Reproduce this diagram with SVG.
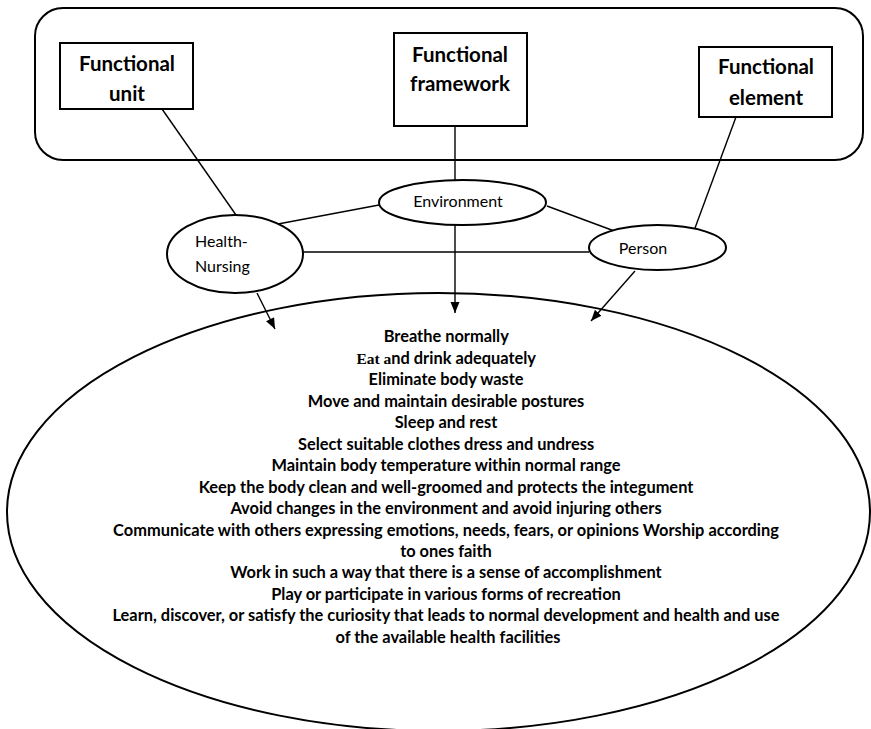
<svg xmlns="http://www.w3.org/2000/svg" width="871" height="729" viewBox="0 0 871 729">
<style>
.box{fill:#fff;stroke:#000;stroke-width:2}
.ell{fill:#fff;stroke:#000;stroke-width:2}
.ln{stroke:#000;stroke-width:1.4;fill:none}
.bt{font-family:Lato,"Liberation Sans",sans-serif;font-weight:bold;font-size:20.5px;text-anchor:middle;fill:#000}
.et{font-family:Lato,"Liberation Sans",sans-serif;font-size:16px;fill:#000}
.lt{font-family:Lato,"Liberation Sans",sans-serif;font-weight:bold;font-size:16.4px;text-anchor:middle;fill:#000}
.sf{font-family:"Liberation Serif",serif;font-weight:bold;font-size:15.5px}
</style>
<defs>
<marker id="ah" markerUnits="userSpaceOnUse" markerWidth="12" markerHeight="10" refX="11" refY="4.5" orient="auto">
<path d="M0,0 L11,4.5 L0,9 z" fill="#000"/>
</marker>
</defs>
<rect id="frame" x="35" y="8" width="828" height="152" rx="28" ry="28" fill="#fff" stroke="#000" stroke-width="2"/>
<g id="needs">
<ellipse cx="438.5" cy="512" rx="431.5" ry="219" fill="#fff" stroke="#000" stroke-width="2"/>
<text class="lt">
<tspan x="448" y="342">Breathe normally</tspan>
<tspan x="448" y="363.5"><tspan class="sf">Eat a</tspan>nd drink adequately</tspan>
<tspan x="448" y="385">Eliminate body waste</tspan>
<tspan x="448" y="406.5">Move and maintain desirable postures</tspan>
<tspan x="448" y="428">Sleep and rest</tspan>
<tspan x="448" y="449.5">Select suitable clothes dress and undress</tspan>
<tspan x="448" y="471">Maintain body temperature within normal range</tspan>
<tspan x="448" y="492.5">Keep the body clean and well-groomed and protects the integument</tspan>
<tspan x="448" y="514">Avoid changes in the environment and avoid injuring others</tspan>
<tspan x="448" y="535.5">Communicate with others expressing emotions, needs, fears, or opinions Worship according</tspan>
<tspan x="448" y="557">to ones faith</tspan>
<tspan x="448" y="578">Work in such a way that there is a sense of accomplishment</tspan>
<tspan x="448" y="599.5">Play or participate in various forms of recreation</tspan>
<tspan x="448" y="621">Learn, discover, or satisfy the curiosity that leads to normal development and health and use</tspan>
<tspan x="448" y="642.5">of the available health facilities</tspan>
</text>
</g>
<g id="connectors">
<line class="ln" x1="162" y1="109" x2="236" y2="215"/>
<line class="ln" x1="455" y1="126" x2="455" y2="180"/>
<line class="ln" x1="736" y1="117" x2="695" y2="228"/>
<line class="ln" x1="278" y1="224" x2="379" y2="205" stroke-width="2"/>
<line class="ln" x1="547" y1="206" x2="617" y2="232" stroke-width="2"/>
<line class="ln" x1="303" y1="252" x2="589" y2="252" stroke-width="2"/>
<line class="ln" x1="455" y1="225" x2="455" y2="313" marker-end="url(#ah)"/>
<line class="ln" x1="257" y1="293" x2="275" y2="329" marker-end="url(#ah)"/>
<line class="ln" x1="635" y1="271" x2="591" y2="321" marker-end="url(#ah)"/>
</g>
<g id="unit">
<rect class="box" x="60" y="43" width="133" height="66"/>
<text class="bt" x="127" y="71">Functional</text>
<text class="bt" x="127" y="101">unit</text>
</g>
<g id="framework">
<rect class="box" x="394" y="33" width="133" height="93"/>
<text class="bt" x="460" y="62">Functional</text>
<text class="bt" x="460" y="91">framework</text>
</g>
<g id="element">
<rect class="box" x="699" y="47" width="133" height="70"/>
<text class="bt" x="766" y="74">Functional</text>
<text class="bt" x="766" y="105">element</text>
</g>
<g id="environment">
<ellipse class="ell" cx="462.5" cy="202.5" rx="83.5" ry="22.5"/>
<text class="et" x="458" y="207" text-anchor="middle">Environment</text>
</g>
<g id="health-nursing">
<ellipse class="ell" cx="235" cy="254" rx="68" ry="39"/>
<text class="et" x="195" y="247">Health-</text>
<text class="et" x="195" y="272">Nursing</text>
</g>
<g id="person">
<ellipse class="ell" cx="657.5" cy="247.5" rx="68.5" ry="22.5"/>
<text class="et" x="643" y="254" text-anchor="middle">Person</text>
</g>
</svg>
